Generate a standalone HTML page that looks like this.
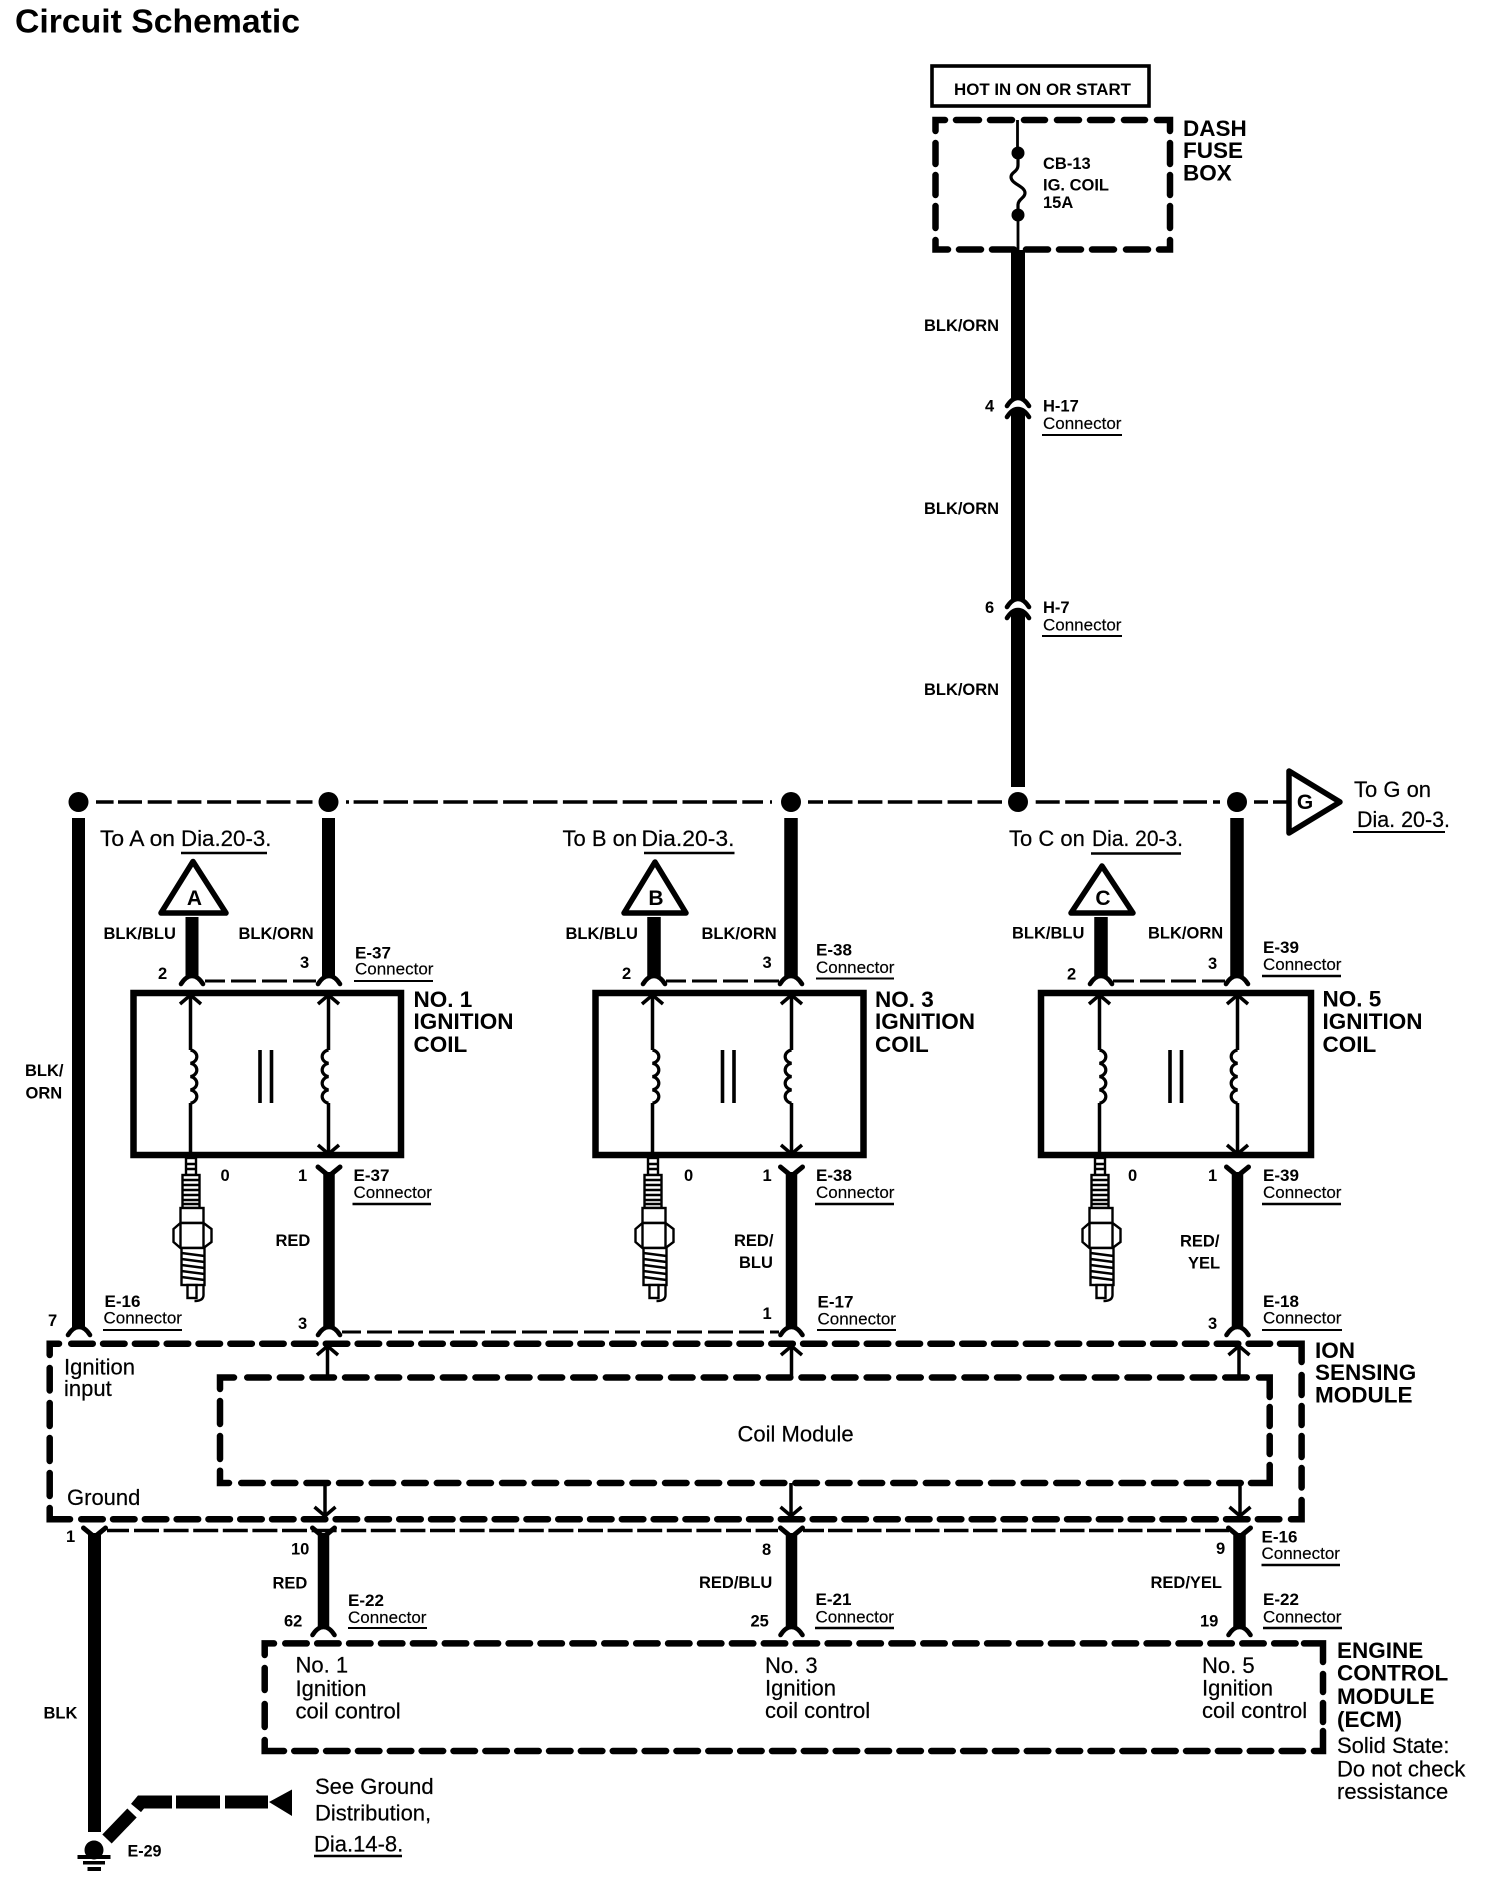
<!DOCTYPE html>
<html><head><meta charset="utf-8"><title>Circuit Schematic</title>
<style>
html,body{margin:0;padding:0;background:#fff}
svg{display:block}
text{font-family:"Liberation Sans",sans-serif;fill:#000}
.b{font-weight:700;font-size:16.5px}
.t{font-weight:700;font-size:22.5px}
.r{font-size:22px;stroke:#000;stroke-width:.2}
.c{font-size:17px;stroke:#000;stroke-width:.15}
.h{font-weight:700;font-size:33px}
.tri{font-weight:700;font-size:21px;text-anchor:middle}
.w{stroke:#000;fill:none}
.box{stroke:#000;fill:none;stroke-width:6.5;stroke-linecap:round;stroke-linejoin:miter}
.bus{stroke:#000;fill:none;stroke-width:3.5}
.thin{stroke:#000;fill:none;stroke-width:3;stroke-dasharray:25 6}
.ln{stroke:#000;fill:none;stroke-width:3.5}
.ul{stroke:#000;stroke-width:2;fill:none}
.ul2{stroke:#000;stroke-width:2.6;fill:none}
</style></head><body>
<svg width="1504" height="1884" viewBox="0 0 1504 1884" xmlns="http://www.w3.org/2000/svg">
<defs>
<g id="cup"><path d="M-11 7 Q-6 -1 0 -1 Q6 -1 11 7" fill="none" stroke="#000" stroke-width="4.6" stroke-linecap="round"/></g>
<g id="fork"><path d="M-11 0 L0 9 L11 0" fill="none" stroke="#000" stroke-width="5" stroke-linecap="round"/></g>
<g id="up"><path d="M-10.5 8 L0 -1 L10.5 8" fill="none" stroke="#000" stroke-width="3.5"/></g>
<g id="down"><path d="M-10.5 -8 L0 1 L10.5 -8" fill="none" stroke="#000" stroke-width="3.5"/></g>
<g id="coilR"><path d="M0 0 a8 6.8 0 0 1 0 13.3 a8 6.8 0 0 1 0 13.3 a8 6.8 0 0 1 0 13.3 a8 6.8 0 0 1 0 13.3" fill="none" stroke="#000" stroke-width="3.2"/></g>
<g id="coilL"><path d="M0 0 a8 6.8 0 0 0 0 13.3 a8 6.8 0 0 0 0 13.3 a8 6.8 0 0 0 0 13.3 a8 6.8 0 0 0 0 13.3" fill="none" stroke="#000" stroke-width="3.2"/></g>
<g id="plug" fill="#fff" stroke="#000" stroke-width="2.4">
<rect x="-4.5" y="0" width="10" height="17"/>
<path d="M-4.5 6 H5.5 M-4.5 11 H5.5"/>
<rect x="-8" y="17" width="17" height="33"/>
<path d="M-8 22 H9 M-8 27 H9 M-8 32 H9 M-8 37 H9 M-8 42 H9 M-8 46 H9"/>
<rect x="-10" y="50" width="23" height="15"/>
<path d="M-10 65 H13 L21 71 V84 L13 90 H-10 L-17 84 V71 Z"/>
<path d="M-10 65 V90 M13 65 V90"/>
<rect x="-9" y="90" width="23" height="37"/>
<path d="M-9 95 L14 98 M-9 101 L14 104 M-9 107 L14 110 M-9 113 L14 116 M-9 119 L14 122"/>
<rect x="-3" y="127" width="9" height="13"/>
<path d="M13 127 V137 Q13 143 4 143" fill="none"/>
</g>
<g id="para"><path d="M0 0 V53 M11.5 0 V53" stroke="#000" stroke-width="3.6" fill="none"/></g>
</defs>
<rect width="1504" height="1884" fill="#fff"/>

<text class="h" x="15" y="32.5" textLength="285" lengthAdjust="spacingAndGlyphs">Circuit Schematic</text>

<!-- HOT box + dash fuse box -->
<rect x="932" y="66" width="217" height="40" fill="none" stroke="#000" stroke-width="3.6"/>
<text class="b" x="954" y="95" textLength="177" lengthAdjust="spacingAndGlyphs">HOT IN ON OR START</text>
<path class="box" d="M935.5 131 V120 H945 M956 120 H979 M990 120 H1012 M1024 120 H1045 M1057 120 H1079 M1090 120 H1112 M1124 120 H1145 M1157 120 H1170 V131
M1170 143 V164 M1170 175 V195 M1170 206 V228 M1170 240 V249.5 H1159
M935.5 143 V164 M935.5 175 V195 M935.5 206 V228 M935.5 240 V249.5 H948
M959 249.5 H981 M992 249.5 H1014 M1026 249.5 H1048 M1059 249.5 H1081 M1092 249.5 H1114 M1126 249.5 H1148"/>
<path class="w" stroke-width="2.8" d="M1017.5 120 V153 M1018 215 V250"/>
<circle cx="1018" cy="153" r="6.5"/><circle cx="1018" cy="215" r="6.5"/>
<path class="w" stroke-width="3.2" d="M1018 155 V165 C1018 172 1011 172 1011 177 C1011 184 1025 186 1025 193 C1025 198 1018 199 1018 205 V215"/>
<text class="b" x="1043" y="169">CB-13</text>
<text class="b" x="1043" y="190.5">IG. COIL</text>
<text class="b" x="1043" y="208">15A</text>
<text class="t" x="1183" y="136">DASH</text>
<text class="t" x="1183" y="158">FUSE</text>
<text class="t" x="1183" y="180.5">BOX</text>

<!-- main vertical wire -->
<path class="w" stroke-width="14" d="M1018 250 V398 M1018 411 V599 M1018 612 V787"/>
<use href="#cup" x="1018" y="399"/>
<use href="#cup" x="1018" y="410"/>
<use href="#cup" x="1018" y="600"/>
<use href="#cup" x="1018" y="611"/>
<text class="b" x="924" y="331" textLength="75" lengthAdjust="spacingAndGlyphs">BLK/ORN</text>
<text class="b" x="924" y="514" textLength="75" lengthAdjust="spacingAndGlyphs">BLK/ORN</text>
<text class="b" x="924" y="695" textLength="75" lengthAdjust="spacingAndGlyphs">BLK/ORN</text>
<text class="b" x="985" y="411.5">4</text>
<text class="b" x="1043" y="411.5">H-17</text>
<text class="c" x="1043" y="429">Connector</text>
<path class="ul" d="M1042 435 H1122"/>
<text class="b" x="985" y="613">6</text>
<text class="b" x="1043" y="613">H-7</text>
<text class="c" x="1043" y="630.5">Connector</text>
<path class="ul" d="M1042 636 H1122"/>

<!-- horizontal bus -->
<path class="bus" d="M96 802 H113.6"/>
<path class="bus" d="M118 802 H292" stroke-dasharray="24 5.7"/>
<path class="bus" d="M296.4 802 H312.5"/>
<path class="bus" d="M346 802 H349"/>
<path class="bus" d="M353.6 802 H763" stroke-dasharray="24.5 5.4"/>
<path class="bus" d="M770 802 H772"/>
<path class="bus" d="M808 802 H823"/>
<path class="bus" d="M828 802 H1003" stroke-dasharray="24.5 5.4"/>
<path class="bus" d="M1035.7 802 H1207" stroke-dasharray="24 5.5"/>
<path class="bus" d="M1213 802 H1220"/>
<path class="bus" d="M1254 802 H1268"/>
<path class="bus" d="M1273 802 H1289"/>
<g fill="#000">
<circle cx="78.5" cy="802" r="10"/><circle cx="328.5" cy="802" r="10"/><circle cx="791" cy="802" r="10"/><circle cx="1018" cy="802" r="10"/><circle cx="1237" cy="802" r="10"/>
</g>

<!-- G flag -->
<path d="M1289 771 V833 L1340 802 Z" fill="#fff" stroke="#000" stroke-width="5.5" stroke-linejoin="round"/>
<text class="tri" x="1305" y="809">G</text>
<text class="r" x="1354" y="797">To G on</text>
<text class="r" x="1357" y="827" textLength="93" lengthAdjust="spacingAndGlyphs">Dia. 20-3.</text>
<path class="ul" d="M1353 832 H1445"/>

<!-- Left ignition wire -->
<path class="w" stroke-width="13" d="M78.5 818 V1328"/>
<use href="#cup" x="79" y="1328"/>
<text class="b" x="25" y="1076">BLK/</text>
<text class="b" x="25.5" y="1098.5">ORN</text>
<text class="b" x="48" y="1326">7</text>
<text class="b" x="104.5" y="1307" textLength="36" lengthAdjust="spacingAndGlyphs">E-16</text>
<text class="c" x="103.5" y="1323.5">Connector</text>
<path class="ul" d="M103 1330 H182"/>

<!-- ========== COIL 1 ========== -->
<text class="r" x="100" y="846" textLength="75" lengthAdjust="spacingAndGlyphs">To A on</text>
<text class="r" x="181" y="846" textLength="90.5" lengthAdjust="spacingAndGlyphs">Dia.20-3.</text>
<path class="ul2" d="M181 853 H267"/>
<path class="w" stroke-width="13" d="M192 917 V977 M328.5 818 V977"/>
<path d="M193 861.5 L226 913 H161 Z" fill="#fff" stroke="#000" stroke-width="5.5" stroke-linejoin="round"/>
<text class="tri" x="194.5" y="905">A</text>
<text class="b" x="103.5" y="939">BLK/BLU</text>
<text class="b" x="238.5" y="939">BLK/ORN</text>
<text class="b" x="158" y="979">2</text>
<text class="b" x="300" y="968">3</text>
<text class="b" x="355" y="958.5" textLength="36" lengthAdjust="spacingAndGlyphs">E-37</text>
<text class="c" x="355" y="974.5">Connector</text>
<path class="ul" d="M354 981 H433"/>
<use href="#cup" x="192" y="977"/><use href="#cup" x="329" y="977"/>
<path class="thin" d="M205 981 H316" stroke-dashoffset="5"/>
<rect x="133.5" y="993" width="267.5" height="162" fill="none" stroke="#000" stroke-width="6.5"/>
<text class="t" x="413.5" y="1007">NO. 1</text>
<text class="t" x="413.5" y="1029">IGNITION</text>
<text class="t" x="413.5" y="1052">COIL</text>
<path class="ln" d="M190.5 996 V1050 M190.5 1103 V1158 M328.5 996 V1050 M328.5 1103 V1155"/>
<use href="#up" x="190.5" y="996"/><use href="#up" x="328.5" y="996"/><use href="#down" x="328.5" y="1153"/>
<use href="#coilR" x="190.5" y="1050"/><use href="#coilL" x="328.5" y="1050"/>
<use href="#para" x="260" y="1050"/>
<use href="#plug" x="190.5" y="1158"/>
<text class="b" x="220.5" y="1181">0</text>
<text class="b" x="298" y="1181">1</text>
<text class="b" x="353.5" y="1181" textLength="36" lengthAdjust="spacingAndGlyphs">E-37</text>
<text class="c" x="353.5" y="1198">Connector</text>
<path class="ul2" d="M352.5 1204 H431"/>
<use href="#fork" x="329" y="1167"/>
<path class="w" stroke-width="11.5" d="M329 1172 V1328"/>
<text class="b" x="275.5" y="1246">RED</text>
<text class="b" x="298" y="1329">3</text>
<use href="#cup" x="329" y="1328"/>
<path class="thin" d="M342 1332 H779" stroke-dasharray="25 5" stroke-dashoffset="6"/>

<!-- ========== COIL 3 ========== -->
<text class="r" x="562.5" y="846">To B on</text>
<text class="r" x="641.5" y="846" textLength="93" lengthAdjust="spacingAndGlyphs">Dia.20-3.</text>
<path class="ul2" d="M644 853 H734.5"/>
<path class="w" stroke-width="13.5" d="M654 917 V977 M791 818 V977"/>
<path d="M655 862 L686 913 H624 Z" fill="#fff" stroke="#000" stroke-width="5.5" stroke-linejoin="round"/>
<text class="tri" x="656" y="905">B</text>
<text class="b" x="565.5" y="939">BLK/BLU</text>
<text class="b" x="701.5" y="939">BLK/ORN</text>
<text class="b" x="622" y="979">2</text>
<text class="b" x="762.5" y="968">3</text>
<text class="b" x="816" y="955.5" textLength="36" lengthAdjust="spacingAndGlyphs">E-38</text>
<text class="c" x="816" y="973">Connector</text>
<path class="ul" d="M816 978.5 H894"/>
<use href="#cup" x="654" y="977"/><use href="#cup" x="791" y="977"/>
<path class="thin" d="M666 981 H779" stroke-dashoffset="5"/>
<rect x="595.5" y="993" width="268" height="162" fill="none" stroke="#000" stroke-width="6.5"/>
<text class="t" x="875" y="1007">NO. 3</text>
<text class="t" x="875" y="1029">IGNITION</text>
<text class="t" x="875" y="1052">COIL</text>
<path class="ln" d="M652.5 996 V1050 M652.5 1103 V1158 M791.5 996 V1050 M791.5 1103 V1155"/>
<use href="#up" x="652.5" y="996"/><use href="#up" x="791.5" y="996"/><use href="#down" x="791.5" y="1153"/>
<use href="#coilR" x="652.5" y="1050"/><use href="#coilL" x="791.5" y="1050"/>
<use href="#para" x="722.5" y="1050"/>
<use href="#plug" x="652.5" y="1158"/>
<text class="b" x="684" y="1181">0</text>
<text class="b" x="762.5" y="1181">1</text>
<text class="b" x="816" y="1181" textLength="36" lengthAdjust="spacingAndGlyphs">E-38</text>
<text class="c" x="816" y="1198">Connector</text>
<path class="ul2" d="M815 1204 H894"/>
<use href="#fork" x="791.5" y="1167"/>
<path class="w" stroke-width="11.5" d="M791.5 1172 V1328"/>
<text class="b" x="734" y="1246">RED/</text>
<text class="b" x="739" y="1268">BLU</text>
<text class="b" x="762.5" y="1319">1</text>
<text class="b" x="817.5" y="1307.5" textLength="36" lengthAdjust="spacingAndGlyphs">E-17</text>
<text class="c" x="817.5" y="1324.5">Connector</text>
<path class="ul" d="M817 1330 H896"/>
<use href="#cup" x="791.5" y="1328"/>

<!-- ========== COIL 5 ========== -->
<text class="r" x="1009" y="846">To C on</text>
<text class="r" x="1092" y="846" textLength="91" lengthAdjust="spacingAndGlyphs">Dia. 20-3.</text>
<path class="ul2" d="M1091 853.5 H1181"/>
<path class="w" stroke-width="13.5" d="M1101 917 V977 M1237 818 V977"/>
<path d="M1102 866 L1133 913 H1071 Z" fill="#fff" stroke="#000" stroke-width="5.5" stroke-linejoin="round"/>
<text class="tri" x="1103" y="905">C</text>
<text class="b" x="1012" y="938.5">BLK/BLU</text>
<text class="b" x="1148" y="938.5">BLK/ORN</text>
<text class="b" x="1067" y="979.5">2</text>
<text class="b" x="1208" y="969">3</text>
<text class="b" x="1263" y="953" textLength="36" lengthAdjust="spacingAndGlyphs">E-39</text>
<text class="c" x="1263" y="970">Connector</text>
<path class="ul2" d="M1262 976 H1341"/>
<use href="#cup" x="1101" y="977"/><use href="#cup" x="1237" y="977"/>
<path class="thin" d="M1113 981 H1225" stroke-dashoffset="4"/>
<rect x="1041" y="993" width="270" height="162" fill="none" stroke="#000" stroke-width="6.5"/>
<text class="t" x="1322.5" y="1006.5">NO. 5</text>
<text class="t" x="1322.5" y="1029">IGNITION</text>
<text class="t" x="1322.5" y="1052">COIL</text>
<path class="ln" d="M1099.5 996 V1050 M1099.5 1103 V1158 M1237.5 996 V1050 M1237.5 1103 V1155"/>
<use href="#up" x="1099.5" y="996"/><use href="#up" x="1237.5" y="996"/><use href="#down" x="1237.5" y="1153"/>
<use href="#coilR" x="1099.5" y="1050"/><use href="#coilL" x="1237.5" y="1050"/>
<use href="#para" x="1170" y="1050"/>
<use href="#plug" x="1099.5" y="1158"/>
<text class="b" x="1128" y="1181">0</text>
<text class="b" x="1208" y="1181">1</text>
<text class="b" x="1263" y="1181" textLength="36" lengthAdjust="spacingAndGlyphs">E-39</text>
<text class="c" x="1263" y="1198">Connector</text>
<path class="ul2" d="M1262 1204 H1341"/>
<use href="#fork" x="1237.5" y="1167"/>
<path class="w" stroke-width="11.5" d="M1237.5 1172 V1328"/>
<text class="b" x="1180" y="1246.5">RED/</text>
<text class="b" x="1188" y="1268.5">YEL</text>
<text class="b" x="1208" y="1329">3</text>
<text class="b" x="1263" y="1307" textLength="36" lengthAdjust="spacingAndGlyphs">E-18</text>
<text class="c" x="1263" y="1323.5">Connector</text>
<path class="ul" d="M1262 1330 H1342"/>
<use href="#cup" x="1237.5" y="1328"/>

<!-- ION sensing module -->
<path class="box" d="M49.7 1355 V1343.7 H59 M1280 1343.7 H1301.6 V1362 M1301.6 1375 V1395 M1301.6 1406 V1425 M1301.6 1436 V1457 M1301.6 1468 V1487.5 M1301.6 1500 V1519.2 H1291 M49.7 1368 V1390.5 M49.7 1403 V1426 M49.7 1438 V1461 M49.7 1473 V1496 M49.7 1508 V1519.2 H70"/>
<path class="box" d="M71.25 1343.7 H1273" stroke-dasharray="21.5 10.32"/>
<path class="box" d="M81.25 1519.2 H1284" stroke-dasharray="21.5 10.3"/>
<path class="box" d="M220 1389 V1377.5 H234 M1259 1377.5 H1269.7 V1397 M1269.7 1407 V1426 M1269.7 1436 V1454 M1269.7 1465 V1483 H1251 M220 1401 V1424 M220 1436 V1459 M220 1470.7 V1483 H229"/>
<path class="box" d="M247.25 1377.5 H1252" stroke-dasharray="21.5 11.1"/>
<path class="box" d="M241.25 1483 H1244" stroke-dasharray="21.5 11.1"/>
<text class="r" x="64" y="1374.5">Ignition</text>
<text class="r" x="64" y="1396">input</text>
<text class="r" x="67" y="1505">Ground</text>
<text class="r" x="737.5" y="1441.5">Coil Module</text>
<text class="t" x="1315" y="1358">ION</text>
<text class="t" x="1315" y="1380">SENSING</text>
<text class="t" x="1315" y="1402.5">MODULE</text>
<path class="ln" d="M327.5 1345 V1377 M791.5 1345 V1377 M1239 1345 V1377 M325 1483 V1517 M791 1483 V1517 M1240 1483 V1517"/>
<use href="#up" x="327.5" y="1347"/><use href="#up" x="791.5" y="1347"/><use href="#up" x="1239" y="1347"/>
<use href="#down" x="325" y="1515"/><use href="#down" x="791" y="1515"/><use href="#down" x="1240" y="1515"/>

<!-- lower dashed + ground wire -->
<path class="bus" stroke-width="3" d="M107 1530.5 H129"/>
<path class="bus" stroke-width="3" d="M134 1530.5 H778" stroke-dasharray="25 4.6"/>
<path class="bus" stroke-width="3" d="M803 1530.5 H824"/>
<path class="bus" stroke-width="3" d="M828 1530.5 H1229" stroke-dasharray="24.5 4.5"/>
<use href="#fork" x="94.5" y="1528"/><use href="#fork" x="323.5" y="1528"/><use href="#fork" x="791.5" y="1528"/><use href="#fork" x="1239.5" y="1528"/>
<path class="w" stroke-width="13" d="M94.5 1533 V1832"/>
<text class="b" x="66" y="1542">1</text>
<text class="b" x="43.5" y="1718.5">BLK</text>
<path class="w" stroke-width="11.5" d="M323.5 1533 V1628 M791.5 1533 V1628"/>
<path class="w" stroke-width="12.5" d="M1239.5 1533 V1628"/>
<use href="#cup" x="323.5" y="1628"/><use href="#cup" x="791.5" y="1628"/><use href="#cup" x="1239.5" y="1628"/>
<text class="b" x="291" y="1554.5">10</text>
<text class="b" x="272.5" y="1588.5">RED</text>
<text class="b" x="284" y="1626.5">62</text>
<text class="b" x="348" y="1606" textLength="36" lengthAdjust="spacingAndGlyphs">E-22</text>
<text class="c" x="348" y="1623">Connector</text>
<path class="ul" d="M348 1628 H427"/>
<text class="b" x="762" y="1555">8</text>
<text class="b" x="699" y="1588">RED/BLU</text>
<text class="b" x="750.5" y="1626.5">25</text>
<text class="b" x="815.5" y="1605" textLength="36" lengthAdjust="spacingAndGlyphs">E-21</text>
<text class="c" x="815.5" y="1622.5">Connector</text>
<path class="ul2" d="M815 1628 H894"/>
<text class="b" x="1216" y="1554">9</text>
<text class="b" x="1150.5" y="1588">RED/YEL</text>
<text class="b" x="1200" y="1626.5">19</text>
<text class="b" x="1261.5" y="1542.5" textLength="36" lengthAdjust="spacingAndGlyphs">E-16</text>
<text class="c" x="1261.5" y="1559">Connector</text>
<path class="ul2" d="M1261.5 1565 H1340"/>
<text class="b" x="1263" y="1605" textLength="36" lengthAdjust="spacingAndGlyphs">E-22</text>
<text class="c" x="1263" y="1622.5">Connector</text>
<path class="ul2" d="M1263 1628 H1342"/>

<!-- ECM -->
<path class="box" d="M264.7 1655 V1643.4 H274 M1304 1643.4 H1323 V1662 M1323 1674 V1692 M1323 1703 V1722 M1323 1731 V1751 H1314 M264.7 1668 V1690 M264.7 1704 V1727 M264.7 1740 V1751 H284"/>
<path class="box" d="M285.25 1643.4 H1297" stroke-dasharray="21.5 10.4"/>
<path class="box" d="M294.25 1751 H1303" stroke-dasharray="21.5 10.35"/>
<text class="r" x="295.5" y="1672.5">No. 1</text>
<text class="r" x="295.5" y="1696">Ignition</text>
<text class="r" x="295.5" y="1718.5">coil control</text>
<text class="r" x="765" y="1673">No. 3</text>
<text class="r" x="765" y="1695.5">Ignition</text>
<text class="r" x="765" y="1718">coil control</text>
<text class="r" x="1202" y="1673">No. 5</text>
<text class="r" x="1202" y="1695.5">Ignition</text>
<text class="r" x="1202" y="1718">coil control</text>
<text class="t" x="1337" y="1658">ENGINE</text>
<text class="t" x="1337" y="1680.5">CONTROL</text>
<text class="t" x="1337" y="1704">MODULE</text>
<text class="t" x="1337" y="1727">(ECM)</text>
<text class="r" x="1337" y="1753">Solid State:</text>
<text class="r" x="1337" y="1776.5">Do not check</text>
<text class="r" x="1337" y="1799">ressistance</text>

<!-- ground -->
<path d="M107 1839 L132 1813" class="w" stroke-width="13"/>
<path d="M136 1808 L141 1802 H172 M176 1802 H220 M225 1802 H268" class="w" stroke-width="13"/>
<path d="M269 1802 L292 1789.5 V1816 Z" fill="#000"/>
<circle cx="94" cy="1850" r="9.5"/>
<rect x="77.5" y="1855" width="33" height="4" fill="#000"/>
<rect x="83" y="1861" width="22" height="3.5" fill="#000"/>
<rect x="87.5" y="1867" width="13.5" height="4" fill="#000"/>
<text class="b" x="127.5" y="1856.5" textLength="34" lengthAdjust="spacingAndGlyphs">E-29</text>
<text class="r" x="315" y="1794">See Ground</text>
<text class="r" x="315" y="1820.5">Distribution,</text>
<text class="r" x="314" y="1851.5">Dia.14-8.</text>
<path class="ul2" d="M314 1856 H402"/>
</svg>
</body></html>
